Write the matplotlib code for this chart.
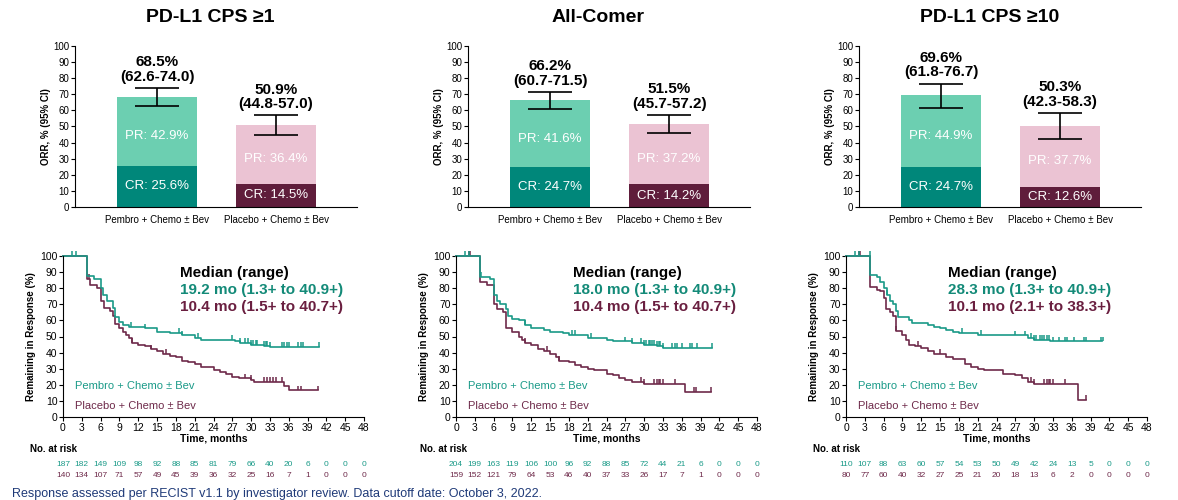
import matplotlib.pyplot as plt
import numpy as np

plt.rcParams['font.family'] = ['Liberation Sans', 'DejaVu Sans']

# ---- data ----
titles = ['PD-L1 CPS \u22651', 'All-Comer', 'PD-L1 CPS \u226510']
arms = ['Pembro + Chemo \u00b1 Bev', 'Placebo + Chemo \u00b1 Bev']

cr_pembro = [25.6, 24.7, 24.7]
pr_pembro = [42.9, 41.6, 44.9]
orr_pembro = [68.5, 66.2, 69.6]
ci_pembro = [(62.6, 74.0), (60.7, 71.5), (61.8, 76.7)]

cr_placebo = [14.5, 14.2, 12.6]
pr_placebo = [36.4, 37.2, 37.7]
orr_placebo = [50.9, 51.5, 50.3]
ci_placebo = [(44.8, 57.0), (45.7, 57.2), (42.3, 58.3)]

# KM curves (time in months, % remaining in response)
km1_pem_t = [0, 3.9, 5.0, 6.0, 6.4, 7.0, 8.0, 8.3, 9.0, 9.6, 10.5, 13.0, 15.0, 17.0, 19.0, 21.0, 22.0, 27.5, 28.3, 30.0, 32.0, 33.0, 40.9]
km1_pem_s = [100, 87.5, 86, 80, 76, 72, 68, 62, 59, 57, 56, 55, 53, 52, 50.7, 49, 48, 47, 46, 45, 44, 43.5, 43.5]
km1_pem_c = [1.5, 2.1, 10.8, 13.0, 18.5, 19.0, 21.5, 27.0, 28.3, 29.0, 29.5, 30.0, 30.3, 30.7, 31.0, 32.0, 32.3, 32.6, 33.0, 35.0, 35.3, 35.7, 36.0, 37.5, 38.0, 38.3, 40.9]
km1_pla_t = [0, 3.9, 4.3, 5.5, 6.0, 6.5, 7.5, 8.0, 8.3, 9.0, 9.5, 10.0, 10.5, 11.0, 12.0, 13.0, 14.0, 15.0, 16.0, 17.0, 18.0, 19.0, 20.0, 21.0, 22.0, 24.0, 25.0, 26.0, 27.0, 28.0, 30.0, 30.5, 35.3, 36.0, 40.7]
km1_pla_s = [100, 86, 82, 80, 72, 68, 66, 63, 58, 55, 53, 51, 49, 46, 45, 44, 42, 41, 39, 38, 37, 35, 34, 33, 31, 29, 28, 27, 25, 24, 23, 21.7, 19, 16.5, 16.5]
km1_pla_c = [4.2, 11.0, 14.0, 16.5, 29.0, 30.0, 32.0, 32.5, 33.0, 33.5, 34.0, 35.0, 37.5, 38.0, 40.7]

km2_pem_t = [0, 3.9, 5.5, 6.0, 6.5, 7.0, 8.0, 8.3, 9.0, 10.0, 11.0, 12.0, 14.0, 15.0, 17.0, 18.0, 21.0, 24.0, 25.0, 28.0, 30.0, 32.0, 33.0, 40.9]
km2_pem_s = [100, 87, 86, 76, 72, 70, 67, 63, 61, 60, 57, 55, 54, 53, 52, 51, 49, 48, 47, 46, 45, 44, 43, 43]
km2_pem_c = [1.5, 2.0, 4.0, 11.0, 18.5, 19.0, 21.5, 27.0, 28.0, 29.5, 30.0, 30.3, 30.7, 31.0, 31.3, 31.6, 32.0, 32.3, 32.6, 33.0, 34.5, 35.0, 35.3, 36.0, 37.3, 37.7, 38.5, 40.9]
km2_pla_t = [0, 3.9, 5.0, 6.0, 6.5, 7.5, 8.0, 9.0, 10.0, 10.5, 11.0, 12.0, 13.0, 14.0, 15.0, 16.0, 16.5, 18.0, 19.0, 20.0, 21.0, 22.0, 24.0, 25.0, 26.0, 27.0, 28.0, 30.0, 36.5, 40.7]
km2_pla_s = [100, 84, 82, 70, 67, 65, 55, 53, 50, 48, 46, 45, 42, 41, 39, 37, 35, 34, 32, 31, 30, 29, 27, 26, 24, 23, 22, 20.7, 15.5, 15.5]
km2_pla_c = [2.0, 2.3, 11.0, 14.5, 16.5, 29.5, 30.0, 31.5, 32.0, 32.3, 32.6, 33.0, 35.0, 38.0, 38.3, 40.7]

km3_pem_t = [0, 3.9, 5.0, 5.5, 6.0, 6.5, 7.0, 7.5, 8.0, 8.3, 10.0, 10.5, 13.0, 14.0, 15.0, 16.0, 17.0, 18.0, 21.0, 22.0, 29.0, 30.0, 32.5, 40.9]
km3_pem_s = [100, 88, 87, 84, 80, 76, 72, 70, 66, 62, 60, 58.6, 57, 56, 55, 54, 53, 52, 51, 50.7, 49, 48, 47, 47]
km3_pem_c = [1.5, 2.0, 3.8, 6.5, 18.5, 21.5, 27.0, 28.5, 29.5, 30.0, 30.3, 31.0, 31.3, 31.6, 32.0, 32.3, 33.0, 34.0, 35.0, 35.3, 36.3, 38.0, 38.3, 40.7, 41.0]
km3_pla_t = [0, 3.9, 5.0, 5.5, 6.0, 6.3, 7.0, 7.5, 8.0, 9.0, 9.5, 10.0, 11.0, 12.0, 13.0, 14.0, 16.0, 17.0, 19.0, 20.0, 21.0, 22.0, 25.0, 27.0, 28.0, 29.0, 30.0, 37.0, 38.3]
km3_pla_s = [100, 81, 79, 78, 74, 67, 65, 63, 53.4, 51, 48, 45, 44, 43, 41, 39, 37, 36, 33, 31, 30, 29, 27, 26, 24, 22, 20.7, 10.4, 10.4]
km3_pla_c = [2.0, 2.3, 8.0, 11.5, 15.0, 29.5, 30.0, 31.5, 32.0, 32.3, 32.6, 33.0, 35.0, 38.3]

medians_pem = ['19.2 mo (1.3+ to 40.9+)', '18.0 mo (1.3+ to 40.9+)', '28.3 mo (1.3+ to 40.9+)']
medians_pla = ['10.4 mo (1.5+ to 40.7+)', '10.4 mo (1.5+ to 40.7+)', '10.1 mo (2.1+ to 38.3+)']

risk_months = np.arange(0, 49, 3)
risk_pem = [[187, 182, 149, 109, 98, 92, 88, 85, 81, 79, 66, 40, 20, 6, 0, 0, 0],
            [204, 199, 163, 119, 106, 100, 96, 92, 88, 85, 72, 44, 21, 6, 0, 0, 0],
            [110, 107, 88, 63, 60, 57, 54, 53, 50, 49, 42, 24, 13, 5, 0, 0, 0]]
risk_pla = [[140, 134, 107, 71, 57, 49, 45, 39, 36, 32, 25, 16, 7, 1, 0, 0, 0],
            [159, 152, 121, 79, 64, 53, 46, 40, 37, 33, 26, 17, 7, 1, 0, 0, 0],
            [80, 77, 60, 40, 32, 27, 25, 21, 20, 18, 13, 6, 2, 0, 0, 0, 0]]

km_pem = [(km1_pem_t, km1_pem_s, km1_pem_c), (km2_pem_t, km2_pem_s, km2_pem_c), (km3_pem_t, km3_pem_s, km3_pem_c)]
km_pla = [(km1_pla_t, km1_pla_s, km1_pla_c), (km2_pla_t, km2_pla_s, km2_pla_c), (km3_pla_t, km3_pla_s, km3_pla_c)]

# ---- colours ----
teal_light = '#6ccfb1'
teal_dark = '#00877a'
pink_light = '#ebc3d3'
maroon = '#5f1d3b'
teal_line = '#1a9a88'
maroon_line = '#6e2a4a'
teal_text = '#138a78'
maroon_text = '#6a1f40'

fig = plt.figure(figsize=(11.78, 5.0), dpi=100)

bar_lefts = [75, 468, 859]
km_lefts = [63, 456, 846]
title_x = [210, 598, 990]
W, H = 1178, 500

for i in range(3):
    fig.text(title_x[i] / W, 1 - 18 / H, titles[i], ha='center', va='center',
             fontsize=14, fontweight='bold')

    # ---- bar chart ----
    ax = fig.add_axes([bar_lefts[i] / W, 1 - 207 / H, 282 / W, 161 / H])
    x = np.array([0, 1])
    bw = 0.67
    ax.bar(0, cr_pembro[i], bw, color=teal_dark)
    ax.bar(0, pr_pembro[i], bw, bottom=cr_pembro[i], color=teal_light)
    ax.bar(1, cr_placebo[i], bw, color=maroon)
    ax.bar(1, pr_placebo[i], bw, bottom=cr_placebo[i], color=pink_light)

    for xi, orr, ci in [(0, orr_pembro[i], ci_pembro[i]), (1, orr_placebo[i], ci_placebo[i])]:
        ax.errorbar(xi, orr, yerr=[[orr - ci[0]], [ci[1] - orr]], color='black',
                    capsize=16, elinewidth=1.2, capthick=1.2, fmt='none')
        ax.annotate('{:.1f}%\n({:.1f}-{:.1f})'.format(orr, ci[0], ci[1]),
                    xy=(xi, ci[1]), xytext=(0, 3), textcoords='offset points',
                    ha='center', va='bottom', fontsize=11, fontweight='bold',
                    linespacing=1.05)

    for xi, cr, pr in [(0, cr_pembro[i], pr_pembro[i]), (1, cr_placebo[i], pr_placebo[i])]:
        ax.text(xi, cr / 2, 'CR: {:.1f}%'.format(cr), color='white', ha='center',
                va='center', fontsize=9.5)
        ax.text(xi, cr + pr / 2 - 3, 'PR: {:.1f}%'.format(pr), color='white',
                ha='center', va='center', fontsize=9.5)

    ax.set_xlim(-0.69, 1.68)
    ax.set_ylim(0, 100)
    ax.set_yticks(np.arange(0, 101, 10))
    ax.set_xticks(x)
    ax.set_xticklabels(arms, fontsize=7)
    ax.tick_params(axis='x', length=0, pad=6)
    ax.tick_params(axis='y', labelsize=7, length=3, pad=1)
    ax.set_ylabel('ORR, % (95% CI)', fontsize=7, fontweight='bold', labelpad=2)
    for sp in ['top', 'right']:
        ax.spines[sp].set_visible(False)

    # ---- KM chart ----
    ak = fig.add_axes([km_lefts[i] / W, 1 - 417 / H, 301 / W, 161 / H])
    for (t, s, c), col in [(km_pla[i], maroon_line), (km_pem[i], teal_line)]:
        t = np.array(t)
        s = np.array(s)
        ak.step(t, s, where='post', color=col, lw=1.2, clip_on=False)
        c = np.array(c)
        sc = s[np.clip(np.searchsorted(t, c, side='right') - 1, 0, len(s) - 1)]
        ak.vlines(c, sc, sc + 3, color=col, lw=1.1, clip_on=False)

    ak.set_xlim(0, 48)
    ak.set_ylim(0, 100)
    ak.set_xticks(risk_months)
    ak.set_yticks(np.arange(0, 101, 10))
    ak.tick_params(labelsize=7.5, length=3, pad=1)
    ak.set_xlabel('Time, months', fontsize=7.5, fontweight='bold', labelpad=1)
    ak.set_ylabel('Remaining in Response (%)', fontsize=7, fontweight='bold', labelpad=3)
    for sp in ['top', 'right']:
        ak.spines[sp].set_visible(False)

    mx = 18.7 if i < 2 else 16.3
    ak.text(mx, 89.4, 'Median (range)', fontsize=11, fontweight='bold', va='center')
    ak.text(mx, 78.9, medians_pem[i], fontsize=11, fontweight='bold', va='center', color=teal_text)
    ak.text(mx, 68.3, medians_pla[i], fontsize=11, fontweight='bold', va='center', color=maroon_text)
    ak.text(1.9, 19.3, arms[0], fontsize=8, va='center', color=teal_line)
    ak.text(1.9, 6.8, arms[1], fontsize=8, va='center', color=maroon_line)

    # number at risk
    tr = ak.get_xaxis_transform()
    ak.text(-5.3 if i != 1 else -5.7, -0.199, 'No. at risk', transform=tr,
            fontsize=7, fontweight='bold', va='center', ha='left')
    for m, n1, n2 in zip(risk_months, risk_pem[i], risk_pla[i]):
        ak.text(m, -0.292, str(n1), transform=tr, fontsize=6, ha='center',
                va='center', color=teal_line)
        ak.text(m, -0.366, str(n2), transform=tr, fontsize=6, ha='center',
                va='center', color=maroon_line)

fig.text(12 / W, 1 - 494 / H,
         'Response assessed per RECIST v1.1 by investigator review. Data cutoff date: October 3, 2022.',
         fontsize=9, color='#1f3a78', va='center', ha='left')

fig.savefig('out.png', dpi=100)
